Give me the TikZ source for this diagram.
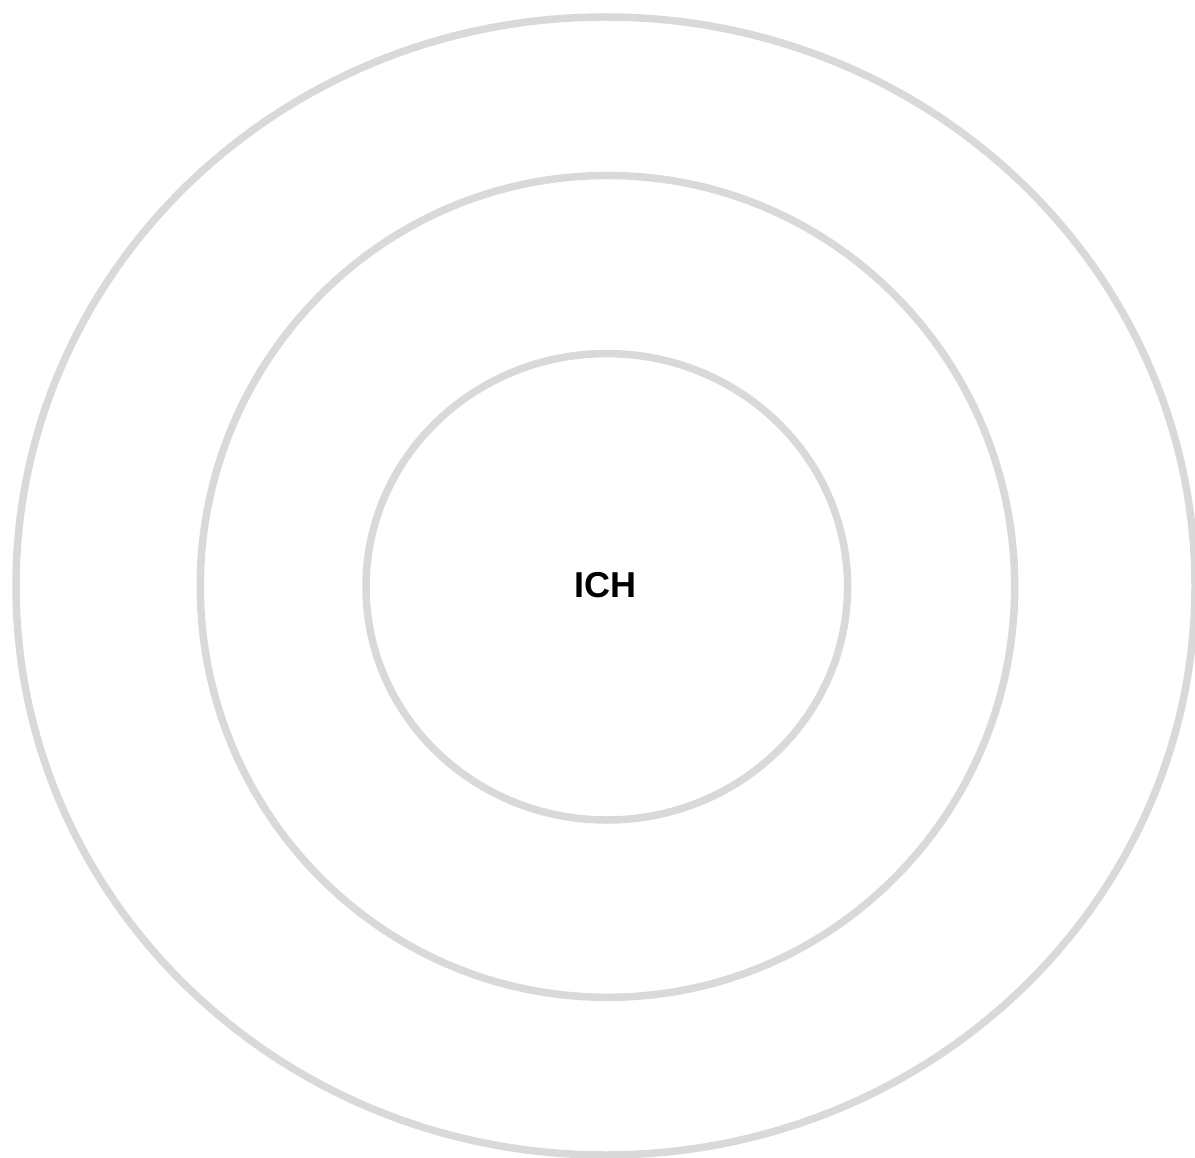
\documentclass[tikz,border=0pt]{standalone}
\usepackage{fontspec}
\setmainfont{Liberation Sans}
\definecolor{ringgray}{HTML}{D9D9D9}
\begin{document}
\begin{tikzpicture}[x=1pt,y=-1pt,
  ring/.style={draw=ringgray,line width=7.5pt},
  label/.style={font=\bfseries\fontsize{36}{40}\selectfont,text=black}]
\useasboundingbox (0,0) rectangle (1195,1158);
\draw[ring] (605.5,586) ellipse [x radius=589.5, y radius=569];
\draw[ring] (607.5,586.4) ellipse [x radius=407.2, y radius=410.9];
\draw[ring] (606.8,586.8) ellipse [x radius=240.8, y radius=233.2];
\node[label] (ich) at (605,585) {ICH};
\end{tikzpicture}
\end{document}
